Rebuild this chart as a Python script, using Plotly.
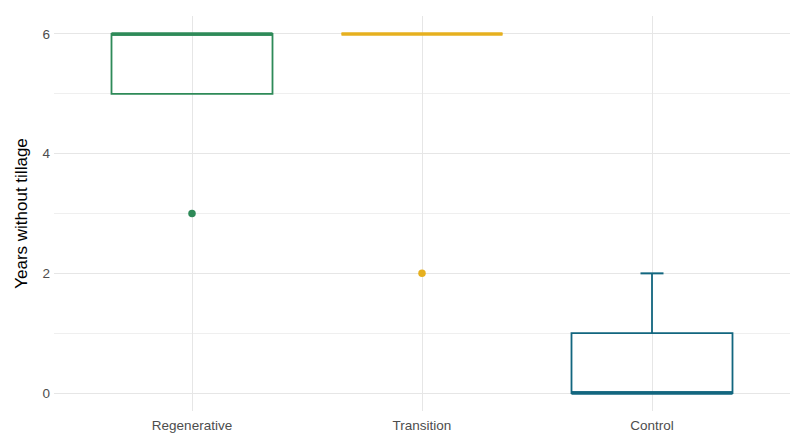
import plotly.graph_objects as go

# Box-plot summary per management group
groups = ["Regenerative", "Transition", "Control"]
q1 = [5, 6, 0]
median = [6, 6, 0]
q3 = [6, 6, 1]
lower_fence = [5, 6, 0]
upper_fence = [6, 6, 2]
outlier_group = ["Regenerative", "Transition"]
outlier_value = [3, 2]

colors = {"Regenerative": "#2e8a58", "Transition": "#e6b01f", "Control": "#12667f"}

y_ticks = [0, 2, 4, 6]

box_w = 0.7
cap_w = 0.05
pos = {g: i + 1 for i, g in enumerate(groups)}

fig = go.Figure()

for i, g in enumerate(groups):
    c = colors[g]
    x = pos[g]
    # box body
    fig.add_trace(go.Box(
        x=[x], q1=[q1[i]], median=[median[i]], q3=[q3[i]],
        lowerfence=[lower_fence[i]], upperfence=[upper_fence[i]],
        width=box_w, fillcolor="rgba(255,255,255,0)",
        line=dict(color=c, width=1.8), whiskerwidth=0,
        boxpoints=False, hoverinfo="skip", showlegend=False,
    ))
    # thick median line
    fig.add_trace(go.Scatter(
        x=[x - box_w / 2, x + box_w / 2], y=[median[i], median[i]],
        mode="lines", line=dict(color=c, width=3.6),
        hoverinfo="skip", showlegend=False,
    ))
    # whisker caps where the whisker extends past the box
    if upper_fence[i] > q3[i]:
        fig.add_trace(go.Scatter(
            x=[x - cap_w, x + cap_w], y=[upper_fence[i], upper_fence[i]],
            mode="lines", line=dict(color=c, width=2),
            hoverinfo="skip", showlegend=False,
        ))
    if lower_fence[i] < q1[i]:
        fig.add_trace(go.Scatter(
            x=[x - cap_w, x + cap_w], y=[lower_fence[i], lower_fence[i]],
            mode="lines", line=dict(color=c, width=2),
            hoverinfo="skip", showlegend=False,
        ))

# outliers
fig.add_trace(go.Scatter(
    x=[pos[g] for g in outlier_group], y=outlier_value, mode="markers",
    marker=dict(color=[colors[g] for g in outlier_group], size=7.5),
    hoverinfo="skip", showlegend=False,
))

grid = "#e6e6e6"
fig.update_layout(
    width=790, height=435,
    margin=dict(l=54, r=0, t=16, b=24),
    paper_bgcolor="white", plot_bgcolor="white",
    font=dict(family="Liberation Sans, Arial, sans-serif", color="#4d4d4d", size=13),
    xaxis=dict(
        range=[0.4, 3.6], tickvals=[pos[g] for g in groups], ticktext=groups,
        showgrid=True, gridcolor=grid, gridwidth=1.4, zeroline=False,
        showline=False, ticks="", tickfont=dict(size=13.5, color="#4d4d4d"),
        ticklabelstandoff=4,
    ),
    yaxis=dict(
        range=[-0.3, 6.3], tickvals=y_ticks,
        showgrid=True, gridcolor=grid, gridwidth=1.4, zeroline=False,
        showline=False, ticks="", tickfont=dict(size=13.5, color="#4d4d4d"),
        ticklabelstandoff=3,
        minor=dict(dtick=1, tick0=0, showgrid=True, gridcolor="#efefef", gridwidth=1),
        title=dict(text="Years without tillage", font=dict(size=17, color="black"), standoff=10),
    ),
)

fig.write_html("out.html")
